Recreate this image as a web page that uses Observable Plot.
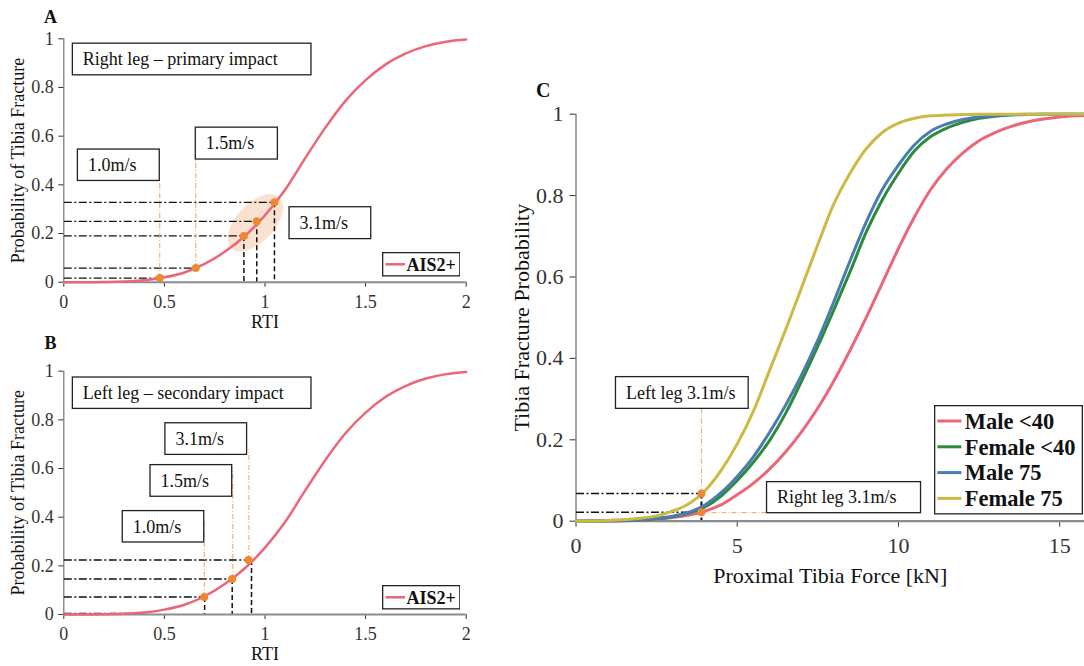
<!DOCTYPE html>
<html>
<head>
<meta charset="utf-8">
<script src="https://cdn.jsdelivr.net/npm/d3@7"></script>
<script src="https://cdn.jsdelivr.net/npm/@observablehq/plot@0.6"></script>
<style>
  html, body { margin: 0; padding: 0; background: #fff; }
  #root { position: relative; width: 1084px; height: 666px; overflow: hidden; background: #fff; }
  #root svg { position: absolute; }
</style>
</head>
<body>
<div id="root"></div>
<script>
// ---------------- DATA ----------------
// Panels A & B: AIS2+ tibia fracture risk vs RTI
const rtiValues = [0, 0.1, 0.2, 0.3, 0.4, 0.5, 0.6, 0.7, 0.8, 0.9, 1.0, 1.1, 1.2, 1.3, 1.4, 1.5, 1.6, 1.7, 1.8, 1.9, 2.0];
const ais2Prob  = [0, 0, 0.001, 0.003, 0.008, 0.02, 0.04, 0.075, 0.125, 0.19, 0.275, 0.38, 0.51, 0.635, 0.745, 0.83, 0.895, 0.94, 0.97, 0.988, 0.997];

// Panel A: right leg, primary impact
const rightLegSpeeds = ["1.0m/s", "1.5m/s", "3.1m/s", "3.1m/s", "3.1m/s"];
const rightLegRTI    = [0.477, 0.656, 0.895, 0.959, 1.047];
const rightLegProb   = [0.017, 0.058, 0.19, 0.25, 0.328];

// Panel B: left leg, secondary impact
const leftLegSpeeds  = ["1.0m/s", "1.5m/s", "3.1m/s"];
const leftLegRTI     = [0.698, 0.837, 0.918];
const leftLegProb    = [0.072, 0.146, 0.224];
const leftLegDropRTI = [0.70, 0.837, 0.933];

// Panel C: tibia fracture probability vs proximal tibia force
const forceKN = [0, 0.5, 1, 1.5, 2, 2.5, 3, 3.5, 4, 4.5, 5, 5.5, 6, 6.5, 7, 7.5, 8, 8.5, 9, 9.5, 10, 10.5, 11, 11.5, 12, 12.5, 13, 13.5, 14, 14.5, 15, 15.5, 16];
const male40   = [0, 0.0002, 0.0005, 0.001, 0.003, 0.005, 0.009, 0.015, 0.025, 0.04, 0.065, 0.093, 0.128, 0.17, 0.22, 0.278, 0.345, 0.42, 0.5, 0.585, 0.67, 0.748, 0.815, 0.866, 0.905, 0.935, 0.955, 0.97, 0.981, 0.988, 0.993, 0.996, 0.998];
const female40 = [0, 0.0003, 0.001, 0.002, 0.003, 0.006, 0.011, 0.02, 0.035, 0.062, 0.1, 0.145, 0.198, 0.265, 0.345, 0.43, 0.52, 0.613, 0.71, 0.79, 0.855, 0.91, 0.945, 0.966, 0.98, 0.99, 0.995, 0.998, 0.999, 1, 1, 1, 1];
const male75   = [0, 0.0003, 0.001, 0.002, 0.004, 0.007, 0.012, 0.022, 0.04, 0.07, 0.11, 0.158, 0.218, 0.285, 0.36, 0.445, 0.54, 0.64, 0.735, 0.815, 0.875, 0.925, 0.958, 0.976, 0.987, 0.993, 0.997, 0.999, 1, 1, 1, 1, 1];
const female75 = [0, 0.0005, 0.002, 0.004, 0.007, 0.013, 0.025, 0.043, 0.075, 0.125, 0.19, 0.27, 0.37, 0.47, 0.575, 0.68, 0.78, 0.855, 0.915, 0.955, 0.978, 0.99, 0.996, 0.998, 0.999, 1, 1, 1, 1, 1, 1, 1, 1];
const groupNames = ["Male <40", "Female <40", "Male 75", "Female 75"];
const groupSeries = [male40, female40, male75, female75];

const legSpeedLabels = ["Left leg 3.1m/s", "Right leg 3.1m/s"];
const legForce = [3.89, 3.89];
const legProb  = [0.068, 0.022];

const axisTicksRTI = [0, 0.5, 1, 1.5, 2];
const axisTicksForce = [0, 5, 10, 15];
const axisTicksProb = [0, 0.2, 0.4, 0.6, 0.8, 1];

// ---------------- STYLE / LAYOUT ----------------
const FONT = '"Liberation Serif", "Times New Roman", Times, serif';
const PINK = "#ec6679";
const groupColors = ["#ec6679", "#2b8b3c", "#4a7bb1", "#cdba45"];
const ORANGE = "#f08732";
const ORANGE_GUIDE = "#f3a25e";
const INK = "#111";
const root = document.getElementById("root");

function ellipseMark(e) {
  return function (index, scales) {
    const cx = scales.x(e.x), cy = scales.y(e.y);
    const g = d3.create("svg:g");
    g.append("ellipse")
      .attr("cx", cx).attr("cy", cy).attr("rx", e.rx).attr("ry", e.ry)
      .attr("transform", `rotate(${e.angle} ${cx} ${cy})`)
      .attr("fill", "#f4b183").attr("fill-opacity", 0.38);
    return g.node();
  };
}

function boxMarks(boxes, fontSize) {
  return [
    Plot.rect(boxes, {x1: "x1", x2: "x2", y1: "y1", y2: "y2", fill: "white", stroke: "#222", strokeWidth: 1.3}),
    Plot.text(boxes, {x: "x1", y: d => (d.y1 + d.y2) / 2, text: "text", textAnchor: "start", lineAnchor: "middle", dx: 10, fontSize, fill: INK})
  ];
}

function label(text, opts) {
  return Plot.text([text], {textAnchor: "middle", lineAnchor: "middle", fill: INK, ...opts});
}

function legendSvg({left, top, width, height, items, fontSize, swX, swLen, swW, textX, row0, rowStep}) {
  const svg = d3.create("svg").attr("width", width).attr("height", height)
    .style("left", left + "px").style("top", top + "px");
  svg.append("rect").attr("x", 0.65).attr("y", 0.65).attr("width", width - 1.3).attr("height", height - 1.3)
    .attr("fill", "white").attr("stroke", "#222").attr("stroke-width", 1.3);
  items.forEach((it, i) => {
    const y = row0 + i * rowStep;
    svg.append("line").attr("x1", swX).attr("x2", swX + swLen).attr("y1", y).attr("y2", y)
      .attr("stroke", it.color).attr("stroke-width", swW);
    svg.append("text").attr("x", textX).attr("y", y).attr("dy", "0.35em")
      .attr("font-family", FONT).attr("font-weight", "bold").attr("font-size", fontSize)
      .attr("fill", INK).text(it.name);
  });
  root.appendChild(svg.node());
}

function riskPanel(cfg) {
  const curveData = rtiValues.map((x, i) => ({x, y: ais2Prob[i]}));
  const points = cfg.rti.map((x, i) => ({x, y: cfg.prob[i], speed: cfg.speeds[i]}));
  const marks = [];
  if (cfg.ellipse) marks.push(ellipseMark(cfg.ellipse));
  marks.push(
    Plot.ruleX([0], {stroke: "#777", strokeWidth: 1.2}),
    Plot.axisX({ticks: axisTicksRTI, tickSize: 5, tickPadding: 8, tickFormat: d => String(d), label: null, color: "#333", fontSize: 18}),
    Plot.axisY({ticks: axisTicksProb, tickSize: 5, tickPadding: 5, tickFormat: d => String(d), label: null, color: "#333", fontSize: 18}),
    Plot.link(cfg.hGuides, {x1: 0, x2: "x", y1: "y", y2: "y", stroke: INK, strokeWidth: 1.3, strokeDasharray: "8,2.5,2,2.5"}),
    Plot.link(cfg.vGuides, {x1: "x", x2: "x", y1: "y", y2: 0, stroke: INK, strokeWidth: 1.5, strokeDasharray: "5,3"}),
    Plot.link(cfg.oGuides, {x1: "x", x2: "x", y1: "y1", y2: "y2", stroke: ORANGE_GUIDE, strokeWidth: 1, strokeDasharray: "5,2,1,2"}),
    ...boxMarks(cfg.boxes, 18),
    Plot.ruleY([0], {stroke: "#8c8c8c", strokeWidth: 2}),
    Plot.line(curveData, {x: "x", y: "y", stroke: PINK, strokeWidth: 2.5, curve: "monotone-x"}),
    Plot.dot(points, {x: "x", y: "y", r: 4, fill: ORANGE}),
    label("RTI", {frameAnchor: "bottom", dy: 40, fontSize: 18}),
    label("Probability of Tibia Fracture", {frameAnchor: "left", rotate: -90, dx: -45.3, fontSize: 18}),
    label(cfg.letter, {frameAnchor: "top-left", dx: cfg.letterDx, dy: cfg.letterDy, fontSize: 18, fontWeight: "bold"})
  );
  const svg = Plot.plot({
    width: 480, height: cfg.height,
    marginLeft: 63.3, marginRight: 14.3, marginTop: cfg.marginTop, marginBottom: cfg.marginBottom,
    x: {domain: [0, 2]},
    y: {domain: [0, 1]},
    style: {fontFamily: FONT, fontSize: "18px", background: "transparent", color: INK},
    marks
  });
  svg.style.left = "0px";
  svg.style.top = cfg.top + "px";
  root.appendChild(svg);
  legendSvg({left: 381.7, top: cfg.legendTop, width: 78.5, height: 24.5,
    items: [{name: "AIS2+", color: PINK}], fontSize: 18,
    swX: 3.5, swLen: 19.5, swW: 2.5, textX: 24.5, row0: 12.3, rowStep: 0});
}

// Panel A
riskPanel({
  letter: "A", top: 0, height: 342, marginTop: 38.3, marginBottom: 60.3, letterDx: -13.3, letterDy: -21.3,
  legendTop: 252.3,
  rti: rightLegRTI, prob: rightLegProb, speeds: rightLegSpeeds,
  hGuides: rightLegRTI.map((x, i) => ({x, y: rightLegProb[i]})),
  vGuides: rightLegRTI.slice(2).map((x, i) => ({x, y: rightLegProb[i + 2]})),
  oGuides: [
    {x: rightLegRTI[0], y1: rightLegProb[0], y2: 0.416},
    {x: rightLegRTI[1], y1: rightLegProb[1], y2: 0.504}
  ],
  boxes: [
    {text: "Right leg – primary impact", x1: 0.045, x2: 1.231, y1: 0.85, y2: 0.98},
    {text: "1.0m/s", x1: 0.07, x2: 0.477, y1: 0.416, y2: 0.545},
    {text: "1.5m/s", x1: 0.656, x2: 1.064, y1: 0.504, y2: 0.635},
    {text: "3.1m/s", x1: 1.122, x2: 1.528, y1: 0.177, y2: 0.308}
  ],
  ellipse: {x: 0.955, y: 0.242, rx: 35, ry: 19, angle: -47}
});

// Panel B
riskPanel({
  letter: "B", top: 330, height: 336, marginTop: 40.7, marginBottom: 52, letterDx: -13.3, letterDy: -27.7,
  legendTop: 585.3,
  rti: leftLegRTI, prob: leftLegProb, speeds: leftLegSpeeds,
  hGuides: [{x: 0.4, y: 0.005}].concat(leftLegDropRTI.map((x, i) => ({x, y: leftLegProb[i]}))),
  vGuides: leftLegDropRTI.map((x, i) => ({x, y: leftLegProb[i]})),
  oGuides: [
    {x: leftLegRTI[0], y1: leftLegProb[0], y2: 0.386},
    {x: 0.84, y1: leftLegProb[1], y2: 0.60},
    {x: 0.92, y1: leftLegProb[2], y2: 0.68}
  ],
  boxes: [
    {text: "Left leg – secondary impact", x1: 0.045, x2: 1.231, y1: 0.845, y2: 0.974},
    {text: "3.1m/s", x1: 0.505, x2: 0.911, y1: 0.656, y2: 0.786},
    {text: "1.5m/s", x1: 0.431, x2: 0.837, y1: 0.484, y2: 0.614},
    {text: "1.0m/s", x1: 0.293, x2: 0.698, y1: 0.296, y2: 0.425}
  ]
});

// Panel C
(function () {
  const series = [];
  groupSeries.forEach((vals, g) => vals.forEach((p, i) => series.push({force: forceKN[i], prob: p, group: groupNames[g]})));
  const legPoints = legForce.map((f, i) => ({x: f, y: legProb[i], label: legSpeedLabels[i]}));
  const boxesC = [
    {text: legSpeedLabels[0], x1: 1.24, x2: 5.355, y1: 0.276, y2: 0.354},
    {text: legSpeedLabels[1], x1: 5.925, x2: 10.70, y1: 0.0197, y2: 0.096}
  ];
  const svg = Plot.plot({
    width: 584, height: 606,
    marginLeft: 75.5, marginRight: 0, marginTop: 53.7, marginBottom: 145.3,
    x: {domain: [0, 15.77]},
    y: {domain: [0, 1]},
    color: {domain: groupNames, range: groupColors},
    style: {fontFamily: FONT, fontSize: "22px", background: "transparent", color: INK},
    marks: [
      Plot.ruleX([0], {stroke: "#666", strokeWidth: 1.2}),
      Plot.axisX({ticks: axisTicksForce, tickSize: 6, tickPadding: 10.5, tickFormat: d => String(d), label: null, color: "#333", fontSize: 22}),
      Plot.axisY({ticks: axisTicksProb, tickSize: 6, tickPadding: 6.4, tickFormat: d => String(d), label: null, color: "#333", fontSize: 22}),
      Plot.link(legPoints, {x1: 0, x2: "x", y1: "y", y2: "y", stroke: INK, strokeWidth: 1.3, strokeDasharray: "8,2.5,2,2.5"}),
      Plot.link([legPoints[0]], {x1: "x", x2: "x", y1: "y", y2: 0, stroke: INK, strokeWidth: 2, strokeDasharray: "5,3"}),
      Plot.link([{x: legForce[0], y1: legProb[0], y2: 0.276}], {x1: "x", x2: "x", y1: "y1", y2: "y2", stroke: ORANGE_GUIDE, strokeWidth: 1, strokeDasharray: "5,2,1,2"}),
      Plot.link([{x1: legForce[1], x2: 5.925, y: 0.021}], {x1: "x1", x2: "x2", y1: "y", y2: "y", stroke: ORANGE_GUIDE, strokeWidth: 1, strokeDasharray: "5,2,1,2"}),
      ...boxMarks(boxesC, 18),
      Plot.ruleY([0], {stroke: "#8c8c8c", strokeWidth: 2.2}),
      Plot.line(series, {x: "force", y: "prob", z: "group", stroke: "group", strokeWidth: 3, curve: "monotone-x"}),
      Plot.dot(legPoints, {x: "x", y: "y", r: 4, fill: ORANGE}),
      label("Proximal Tibia Force [kN]", {frameAnchor: "bottom", dy: 54.3, fontSize: 22}),
      label("Tibia Fracture Probability", {frameAnchor: "left", rotate: -90, dx: -54.5, fontSize: 22}),
      label("C", {frameAnchor: "top-left", dx: -32.8, dy: -23.7, fontSize: 20, fontWeight: "bold"})
    ]
  });
  svg.style.left = "500px";
  svg.style.top = "60px";
  root.appendChild(svg);
  legendSvg({left: 934.3, top: 405, width: 149, height: 109.5,
    items: groupNames.map((name, i) => ({name, color: groupColors[i]})), fontSize: 22.5,
    swX: 3.4, swLen: 24, swW: 3, textX: 30.7, row0: 16, rowStep: 25.8});
})();
</script>
</body>
</html>
